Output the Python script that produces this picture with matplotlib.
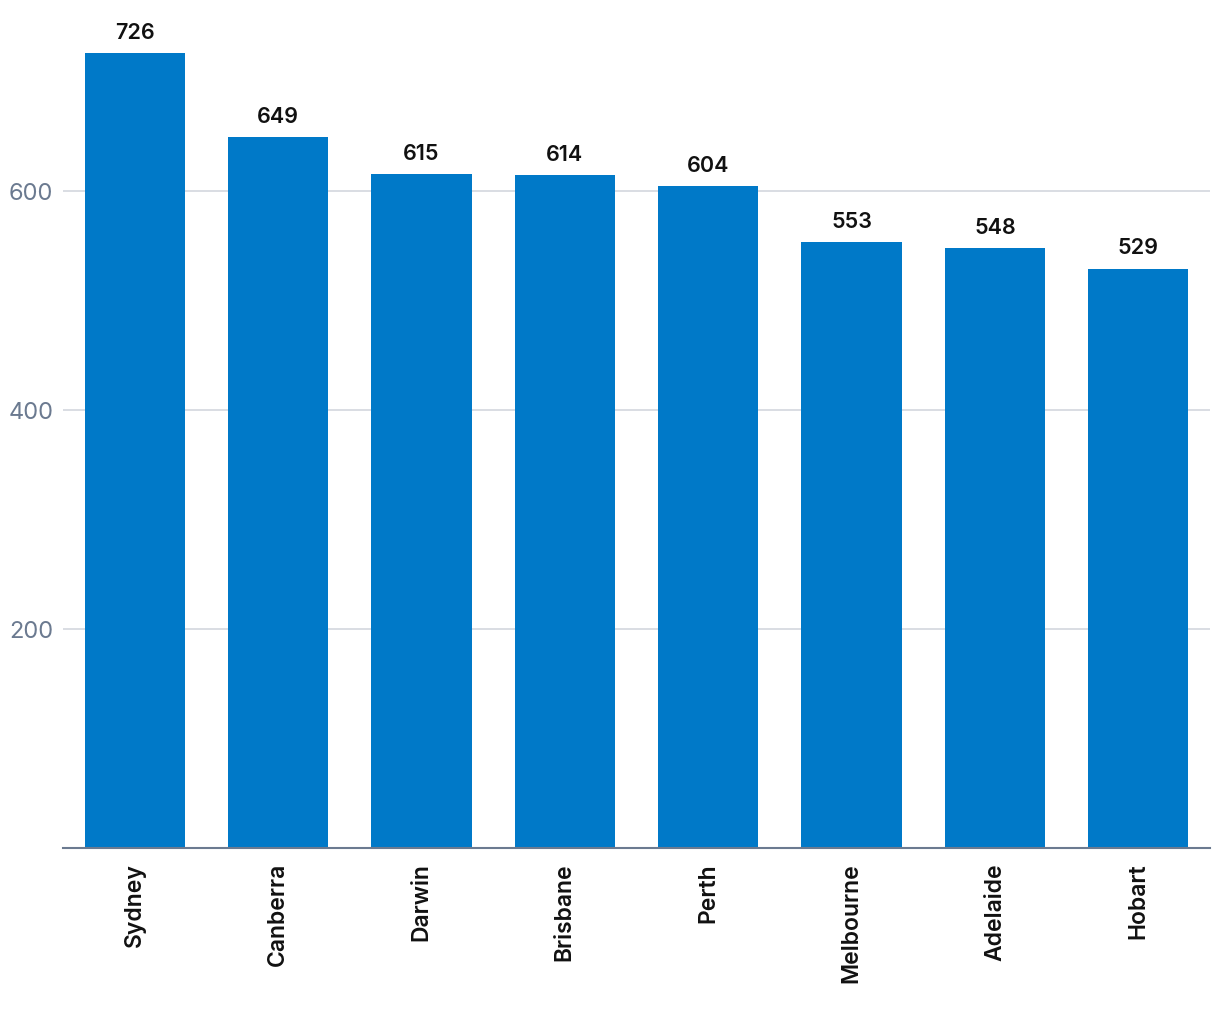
import matplotlib
matplotlib.use("Agg")
import matplotlib.pyplot as plt

cities = ["Sydney", "Canberra", "Darwin", "Brisbane", "Perth", "Melbourne", "Adelaide", "Hobart"]
values = [726, 649, 615, 614, 604, 553, 548, 529]
yticks = [200, 400, 600]

W, H = 1220, 1020
fig = plt.figure(figsize=(W / 100, H / 100), dpi=100)
ax = fig.add_axes([63 / W, (H - 849) / H, (1210 - 63) / W, (849 - 10) / H])

bar_color = "#0079C8"
x = list(range(len(cities)))
ax.bar(x, values, width=0.7, color=bar_color, zorder=2)
ax.set_xlim(-0.5, len(cities) - 0.5)
ax.set_ylim(0, 766)

ax.set_yticks(yticks)
ax.set_yticklabels([str(t) for t in yticks], fontsize=17, color="#6B7A90", family="Inter")
ax.tick_params(axis="y", length=0, pad=7)
ax.yaxis.grid(True, color="#D3D7DE", linewidth=1.2, zorder=0)
ax.set_axisbelow(True)

ax.set_xticks(x)
ax.set_xticklabels(cities, rotation=90, fontsize=16.5, family="Inter", fontweight="semibold", color="#111111", va="top", ha="center")
ax.tick_params(axis="x", length=0, pad=10)

for s in ["top", "right", "left"]:
    ax.spines[s].set_visible(False)
ax.spines["bottom"].set_color("#6B7A90")
ax.spines["bottom"].set_linewidth(1.5)

for xi, v in zip(x, values):
    ax.annotate(str(v), (xi, v), xytext=(0, 8), textcoords="offset points",
                ha="center", va="bottom", fontsize=15.5, family="Inter", fontweight="semibold", color="#111111")

fig.savefig("out.png", dpi=100)
